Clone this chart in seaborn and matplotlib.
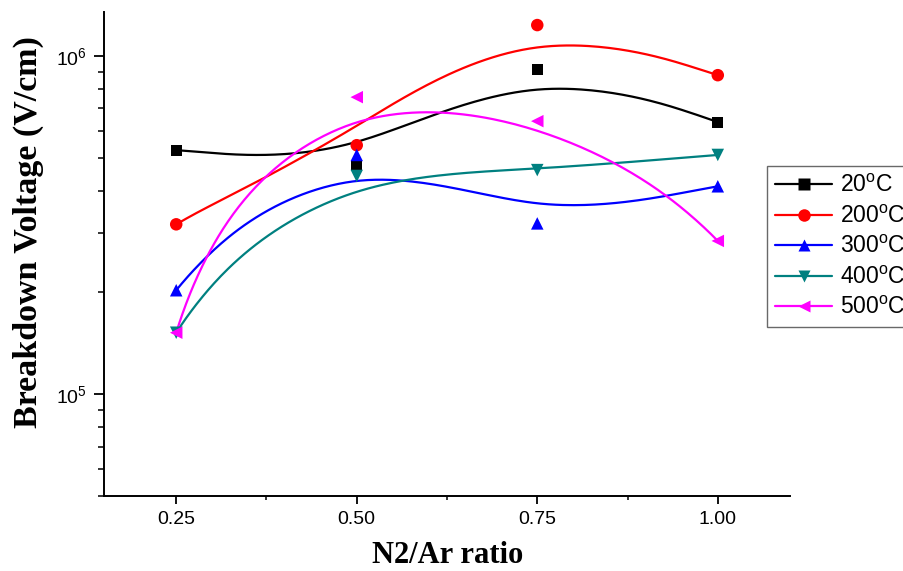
import numpy as np
import pandas as pd
import matplotlib
matplotlib.use('Agg')
import matplotlib.pyplot as plt
import seaborn as sns
from matplotlib.lines import Line2D
from matplotlib.ticker import LogLocator, NullFormatter, AutoMinorLocator


# DATA
ratios = [0.25, 0.50, 0.75, 1.00]
v_20 = [5.27e5, 4.76e5, 9.15e5, 6.38e5]
v_200 = [3.18e5, 5.45e5, 1.235e6, 8.78e5]
v_300 = [2.03e5, 5.10e5, 3.20e5, 4.12e5]
v_400 = [1.52e5, 4.42e5, 4.60e5, 5.10e5]
v_500 = [1.52e5, 7.56e5, 6.42e5, 2.84e5]
temps = ['20', '200', '300', '400', '500']

series = [v_20, v_200, v_300, v_400, v_500]
colors = ['black', '#FF0000', '#0000FF', '#008080', '#FF00FF']
markers = ['s', 'o', '^', 'v', '<']
msizes = [8, 9, 9, 9, 9]

df = pd.DataFrame({'ratio': ratios * 5,
                   'voltage': sum(series, []),
                   'temp': [t for t in temps for _ in ratios]})


def bspline(x, y, n=50):
    # uniform cubic B-spline, data points as control points, ends repeated
    P = np.column_stack([x, y]).astype(float)
    Q = np.vstack([P[0], P[0], P, P[-1], P[-1]])
    t = np.linspace(0, 1, n)
    B = np.column_stack([(1 - t) ** 3,
                         3 * t ** 3 - 6 * t ** 2 + 4,
                         -3 * t ** 3 + 3 * t ** 2 + 3 * t + 1,
                         t ** 3]) / 6
    out = np.vstack([B @ Q[i:i + 4] for i in range(len(Q) - 3)])
    return out[:, 0], out[:, 1]


sns.set_theme(style='ticks')
plt.rcParams['font.family'] = ['Liberation Sans', 'DejaVu Sans']
plt.rcParams['mathtext.fontset'] = 'custom'
plt.rcParams['mathtext.rm'] = 'Liberation Sans'
plt.rcParams['mathtext.it'] = 'Liberation Sans'
plt.rcParams['text.color'] = 'black'
plt.rcParams['axes.labelcolor'] = 'black'

fig = plt.figure(figsize=(9.04, 5.71), dpi=100)
ax = fig.add_axes([104 / 904, 1 - 496 / 571, 686 / 904, 484 / 571])

for temp, col, mk, ms in zip(temps, colors, markers, msizes):
    d = df[df['temp'] == temp]
    cx, cy = bspline(d['ratio'].values, d['voltage'].values)
    sns.lineplot(x=cx, y=cy, sort=False, color=col, lw=1.6, ax=ax,
                 estimator=None, legend=False)
    sns.scatterplot(x='ratio', y='voltage', data=d, color=col, marker=mk,
                    s=ms ** 2, edgecolor='none', ax=ax, legend=False, zorder=5)

ax.set_yscale('log')
ax.set_xlim(0.15, 1.1)
ax.set_ylim(5e4, 1.35e6)
ax.set_xticks(ratios)
ax.set_xticklabels(['0.25', '0.50', '0.75', '1.00'])
ax.xaxis.set_minor_locator(AutoMinorLocator(2))
ax.yaxis.set_major_locator(LogLocator(base=10))
ax.yaxis.set_minor_locator(LogLocator(base=10, subs=np.arange(2, 10)))
ax.yaxis.set_minor_formatter(NullFormatter())

sns.despine(ax=ax)
for sp in ['left', 'bottom']:
    ax.spines[sp].set_linewidth(1.4)
    ax.spines[sp].set_color('black')
ax.tick_params(axis='both', which='major', direction='out', width=1.3,
               labelsize=14, colors='black', pad=5)
ax.tick_params(axis='y', which='major', length=7)
ax.tick_params(axis='x', which='major', length=6)
ax.tick_params(axis='y', which='minor', direction='out', length=4, width=1.3)
ax.tick_params(axis='x', which='minor', direction='out', length=3, width=1.3)

ax.set_xlabel('N2/Ar ratio', family='Liberation Serif', fontweight='bold',
              fontsize=22)
ax.set_ylabel('Breakdown Voltage (V/cm)', family='Liberation Serif',
              fontweight='bold', fontsize=24.5)
ax.xaxis.set_label_coords(0.501, -0.092)
ax.yaxis.set_label_coords(-0.088, 0.545)

handles = [Line2D([0], [0], color=c, marker=m, markersize=ms, lw=1.6,
                  markeredgecolor='none')
           for c, m, ms in zip(colors, markers, msizes)]
labels = [t + r'$^\mathregular{o}$C' for t in temps]
leg = fig.legend(handles, labels, loc='upper left',
                 bbox_to_anchor=(767 / 904, 1 - 166 / 571),
                 bbox_transform=fig.transFigure, fontsize=16.5, frameon=True,
                 fancybox=False, handlelength=2.5, handletextpad=0.35,
                 labelspacing=0.33, borderpad=0.35, borderaxespad=0)
leg.get_frame().set_edgecolor('#444444')
leg.get_frame().set_linewidth(1.0)

fig.savefig('out.png', dpi=100)
